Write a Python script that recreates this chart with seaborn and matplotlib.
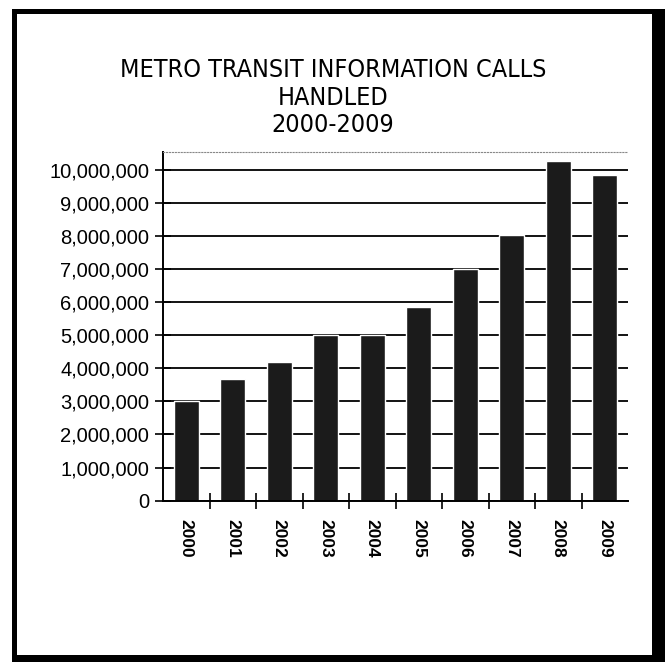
import matplotlib
matplotlib.use("Agg")
import matplotlib.pyplot as plt
import matplotlib.ticker as mticker
from matplotlib.patches import Rectangle
import seaborn as sns
import numpy as np

# data
years = ["2000", "2001", "2002", "2003", "2004", "2005", "2006", "2007", "2008", "2009"]
calls = [3000000, 3660000, 4200000, 5000000, 4990000, 5840000, 6990000, 8010000, 10250000, 9850000]
title_lines = ["METRO TRANSIT INFORMATION CALLS", "HANDLED", "2000-2009"]

sns.set_style("white")
plt.rcParams["font.family"] = ["Liberation Sans", "DejaVu Sans"]
plt.rcParams["text.color"] = "black"
plt.rcParams["xtick.color"] = "black"
plt.rcParams["ytick.color"] = "black"

W, H = 668, 662
fig = plt.figure(figsize=(W / 100, H / 100), dpi=100)

# outer frame with a heavier shadow on the right / bottom
fig.patches.append(Rectangle((12 / W, 0), (665 - 12) / W, (H - 9) / H,
                             transform=fig.transFigure, facecolor="black", edgecolor="none", zorder=-10))
fig.patches.append(Rectangle((17 / W, (H - 655) / H), (652 - 17) / W, (655 - 14) / H,
                             transform=fig.transFigure, facecolor="white", edgecolor="none", zorder=-9))

ax = fig.add_axes([163 / W, 1 - 500.7 / H, 465 / W, 348.7 / H])
ax.set_facecolor("none")
sns.barplot(x=years, y=calls, color="#1b1b1b", saturation=1, width=0.54, ax=ax)

ax.set_ylim(0, 10.53e6)
ax.set_yticks(np.arange(0, 10_000_001, 1_000_000))
ax.yaxis.set_major_formatter(mticker.FuncFormatter(lambda v, p: f"{int(v):,}"))
ax.yaxis.grid(True, color="black", lw=1.3)
ax.set_axisbelow(True)
ax.set_xlabel("")
ax.set_ylabel("")

# ticks between categories, crossing the axis like the Excel chart
ax.set_xticks(np.arange(0.5, 9, 1), minor=True)
ax.tick_params(bottom=True, left=True, which="both")
ax.tick_params(axis="x", which="major", length=0, pad=13, labelsize=12.5, labelrotation=-90)
ax.tick_params(axis="x", which="minor", direction="inout", length=12, width=1.2, color="black")
ax.tick_params(axis="y", which="major", direction="inout", length=12, width=1.2, color="black",
               labelsize=14.5, pad=4)
for lab in ax.get_xticklabels():
    lab.set_fontweight("bold")

for side in ["left", "bottom"]:
    ax.spines[side].set_color("black")
    ax.spines[side].set_linewidth(1.4)
ax.spines["right"].set_visible(False)
ax.spines["top"].set_color("#888888")
ax.spines["top"].set_linewidth(0.8)
ax.spines["top"].set_linestyle(":")

for txt, y in zip(title_lines, [70, 98, 125]):
    fig.text(333 / W, 1 - y / H, txt, ha="center", va="center", fontsize=18,
             family="DejaVu Sans", fontstretch="condensed")

fig.savefig("out.png", dpi=100)
